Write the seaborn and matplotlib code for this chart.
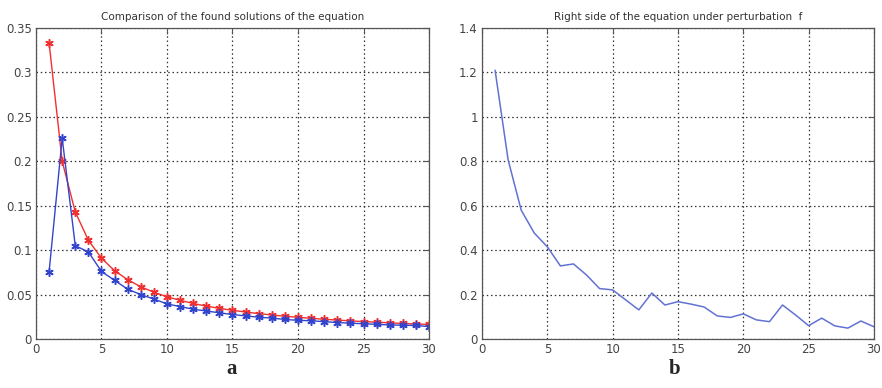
import numpy as np
import pandas as pd
import matplotlib
matplotlib.use("Agg")
import matplotlib.pyplot as plt
import seaborn as sns

# Iteration index shared by both panels
n = list(range(1, 31))

# Panel a: the two found solutions
exact_solution = [0.3333, 0.2000, 0.1429, 0.1111, 0.0909, 0.0769, 0.0667, 0.0588,
                  0.0526, 0.0476, 0.0435, 0.0400, 0.0370, 0.0345, 0.0323, 0.0303,
                  0.0286, 0.0270, 0.0256, 0.0244, 0.0233, 0.0222, 0.0213, 0.0204,
                  0.0196, 0.0189, 0.0182, 0.0175, 0.0169, 0.0164]
perturbed_solution = [0.0755, 0.2260, 0.1050, 0.0980, 0.0760, 0.0660, 0.0560, 0.0500,
                      0.0450, 0.0395, 0.0365, 0.0335, 0.0315, 0.0295, 0.0275, 0.0260,
                      0.0245, 0.0235, 0.0220, 0.0210, 0.0205, 0.0195, 0.0185, 0.0178,
                      0.0172, 0.0165, 0.0158, 0.0155, 0.0152, 0.0140]

# Panel b: perturbed right-hand side f
rhs_perturbed = [1.21, 0.806, 0.58, 0.477, 0.415, 0.329, 0.338, 0.288, 0.227, 0.221,
                 0.176, 0.131, 0.207, 0.153, 0.168, 0.157, 0.144, 0.104, 0.097, 0.113,
                 0.086, 0.078, 0.153, 0.108, 0.060, 0.094, 0.059, 0.049, 0.081, 0.055]

df_a = pd.DataFrame({"n": n, "exact": exact_solution, "perturbed": perturbed_solution})
df_b = pd.DataFrame({"n": n, "f": rhs_perturbed})

sns.set_style("white")
plt.rcParams["font.family"] = ["DejaVu Sans"]

fig = plt.figure(figsize=(8.82, 3.88), dpi=100)
ax_a = fig.add_axes([0.0408, 0.1263, 0.4456, 0.8015])
ax_b = fig.add_axes([0.5465, 0.1263, 0.4444, 0.8015])

# asterisk marker, as in classic MATLAB plots
asterisk = (6, 2, 0)
sns.lineplot(data=df_a, x="n", y="exact", ax=ax_a, color="#f03030", lw=1.0,
             marker=asterisk, markersize=6, markeredgewidth=1.1,
             markeredgecolor="#f03030")
sns.lineplot(data=df_a, x="n", y="perturbed", ax=ax_a, color="#3344cc", lw=1.0,
             marker=asterisk, markersize=6, markeredgewidth=1.1,
             markeredgecolor="#3344cc")
sns.lineplot(data=df_b, x="n", y="f", ax=ax_b, color="#6272d2", lw=1.1)

def style_axes(ax, ylim, yticks, yticklabels, title):
    ax.set_xlim(0, 30)
    ax.set_ylim(*ylim)
    ax.set_xticks(range(0, 31, 5))
    ax.set_yticks(yticks)
    ax.set_yticklabels(yticklabels)
    ax.set_xlabel("")
    ax.set_ylabel("")
    ax.grid(True, linestyle=(0, (1.2, 2.2)), color="#333333", lw=0.9)
    ax.set_axisbelow(True)
    for s in ax.spines.values():
        s.set_color("#555555")
        s.set_linewidth(0.9)
        s.set_visible(True)
    ax.tick_params(direction="in", length=4, width=0.8, color="#555555",
                   labelsize=8.5, labelcolor="#444444", top=True, right=True,
                   pad=3)
    ax.set_title(title, fontsize=7.5, color="#333333", pad=6)

style_axes(ax_a, (0, 0.35), [0, 0.05, 0.1, 0.15, 0.2, 0.25, 0.3, 0.35],
           ["0", "0.05", "0.1", "0.15", "0.2", "0.25", "0.3", "0.35"],
           "Comparison of the found solutions of the equation")
style_axes(ax_b, (0, 1.4), [0, 0.2, 0.4, 0.6, 0.8, 1.0, 1.2, 1.4],
           ["0", "0.2", "0.4", "0.6", "0.8", "1", "1.2", "1.4"],
           "Right side of the equation under perturbation  f")

fig.text(0.263, 0.035, "a", fontsize=15, fontweight="bold",
         family=["Liberation Serif", "DejaVu Serif"], ha="center")
fig.text(0.765, 0.035, "b", fontsize=15, fontweight="bold",
         family=["Liberation Serif", "DejaVu Serif"], ha="center")

fig.savefig("out.png", dpi=100)
